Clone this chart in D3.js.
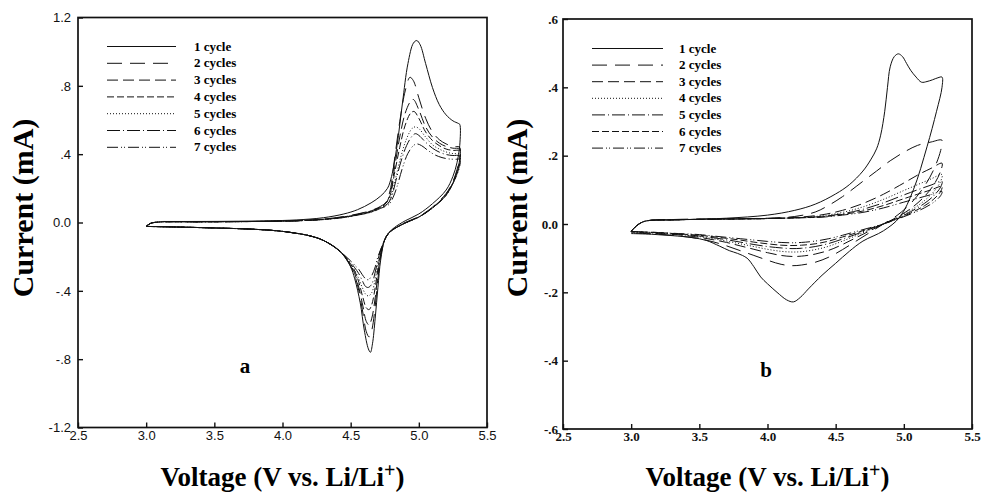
<!DOCTYPE html>
<html>
<head>
<meta charset="utf-8">
<script src="https://cdn.jsdelivr.net/npm/d3@7"></script>
<style>
  body { margin: 0; background: #fff; }
  svg { display: block; }
</style>
</head>
<body>
<svg id="chart"></svg>
<script>
// values: [voltage (V), current (mA)]
const cycleNames = ['1 cycle', '2 cycles', '3 cycles', '4 cycles', '5 cycles', '6 cycles', '7 cycles'];
const voltTicks = [2.5, 3.0, 3.5, 4.0, 4.5, 5.0, 5.5];
const voltTickLabels = ['2.5', '3.0', '3.5', '4.0', '4.5', '5.0', '5.5'];
const currentTicksA = [1.2, 0.8, 0.4, 0, -0.4, -0.8, -1.2];
const currentTickLabelsA = ['1.2', '.8', '.4', '0.0', '-.4', '-.8', '-1.2'];
const currentTicksB = [0.6, 0.4, 0.2, 0, -0.2, -0.4, -0.6];
const currentTickLabelsB = ['.6', '.4', '.2', '0.0', '-.2', '-.4', '-.6'];

const cycle1A = [[3.12,0.006],[3.3,0.006],[3.6,0.007],[3.9,0.01],[4.1,0.015],[4.3,0.028],[4.45,0.05],[4.55,0.075],[4.65,0.115],[4.72,0.155],[4.77,0.2],[4.8,0.27],[4.84,0.45],[4.88,0.7],[4.92,0.93],[4.96,1.05],[4.985,1.065],[5.01,1.04],[5.05,0.93],[5.1,0.79],[5.15,0.69],[5.2,0.63],[5.25,0.595],[5.29,0.58],[5.3,0.575],[5.3,0.45],[5.28,0.35],[5.25,0.27],[5.2,0.19],[5.1,0.11],[5.0,0.05],[4.9,0.01],[4.82,-0.03],[4.78,-0.06],[4.75,-0.1],[4.72,-0.22],[4.7,-0.38],[4.68,-0.56],[4.66,-0.71],[4.645,-0.76],[4.63,-0.74],[4.6,-0.63],[4.57,-0.47],[4.53,-0.33],[4.5,-0.26],[4.45,-0.195],[4.4,-0.155],[4.3,-0.105],[4.2,-0.078],[4.0,-0.052],[3.8,-0.04],[3.5,-0.032],[3.2,-0.026],[3.0,-0.023]];
const cycle2A = [[3.0,-0.023],[3.03,-0.006],[3.08,0.002],[3.4,0.004],[3.8,0.006],[4.1,0.01],[4.3,0.02],[4.45,0.035],[4.55,0.05],[4.65,0.07],[4.72,0.095],[4.76,0.12],[4.79,0.19],[4.82,0.36],[4.86,0.59],[4.9,0.77],[4.935,0.85],[4.96,0.83],[5.0,0.73],[5.05,0.61],[5.1,0.53],[5.15,0.485],[5.2,0.46],[5.25,0.445],[5.3,0.44],[5.3,0.38],[5.28,0.31],[5.25,0.24],[5.2,0.17],[5.1,0.09],[5.0,0.035],[4.9,0.0],[4.82,-0.035],[4.78,-0.06],[4.75,-0.1],[4.72,-0.2],[4.7,-0.33],[4.68,-0.49],[4.655,-0.63],[4.635,-0.67],[4.615,-0.64],[4.59,-0.53],[4.56,-0.4],[4.53,-0.31],[4.5,-0.255],[4.45,-0.195],[4.4,-0.155],[4.3,-0.105],[4.2,-0.078],[4.0,-0.052],[3.8,-0.04],[3.5,-0.032],[3.2,-0.026],[3.0,-0.023]];
const cycle3A = [[3.0,-0.023],[3.03,-0.006],[3.08,0.002],[3.4,0.004],[3.8,0.006],[4.1,0.01],[4.3,0.019],[4.45,0.033],[4.55,0.048],[4.65,0.068],[4.72,0.092],[4.76,0.115],[4.79,0.17],[4.82,0.31],[4.86,0.5],[4.9,0.64],[4.94,0.71],[4.96,0.72],[5.0,0.66],[5.05,0.56],[5.1,0.5],[5.15,0.465],[5.2,0.445],[5.25,0.435],[5.3,0.43],[5.3,0.37],[5.28,0.3],[5.25,0.235],[5.2,0.165],[5.1,0.087],[5.0,0.033],[4.9,-0.002],[4.82,-0.036],[4.78,-0.06],[4.75,-0.1],[4.72,-0.19],[4.7,-0.3],[4.68,-0.44],[4.655,-0.56],[4.635,-0.6],[4.615,-0.58],[4.59,-0.49],[4.56,-0.38],[4.53,-0.3],[4.5,-0.25],[4.45,-0.194],[4.4,-0.154],[4.3,-0.105],[4.2,-0.078],[4.0,-0.052],[3.8,-0.04],[3.5,-0.032],[3.2,-0.026],[3.0,-0.023]];
const cycle4A = [[3.0,-0.023],[3.03,-0.006],[3.08,0.002],[3.4,0.004],[3.8,0.006],[4.1,0.01],[4.3,0.019],[4.45,0.032],[4.55,0.046],[4.65,0.066],[4.72,0.09],[4.76,0.113],[4.79,0.16],[4.82,0.28],[4.86,0.44],[4.9,0.57],[4.94,0.64],[4.965,0.65],[5.0,0.61],[5.05,0.53],[5.1,0.48],[5.15,0.45],[5.2,0.43],[5.25,0.422],[5.3,0.42],[5.3,0.36],[5.28,0.295],[5.25,0.23],[5.2,0.16],[5.1,0.085],[5.0,0.032],[4.9,-0.003],[4.82,-0.037],[4.78,-0.062],[4.75,-0.1],[4.72,-0.18],[4.7,-0.27],[4.68,-0.38],[4.655,-0.48],[4.635,-0.51],[4.615,-0.5],[4.59,-0.44],[4.56,-0.35],[4.53,-0.285],[4.5,-0.245],[4.45,-0.193],[4.4,-0.154],[4.3,-0.105],[4.2,-0.078],[4.0,-0.052],[3.8,-0.04],[3.5,-0.032],[3.2,-0.026],[3.0,-0.023]];
const cycle5A = [[3.0,-0.023],[3.03,-0.006],[3.08,0.002],[3.4,0.004],[3.8,0.006],[4.1,0.01],[4.3,0.018],[4.45,0.031],[4.55,0.045],[4.65,0.064],[4.72,0.088],[4.77,0.11],[4.8,0.16],[4.83,0.26],[4.87,0.39],[4.91,0.49],[4.95,0.55],[4.975,0.56],[5.0,0.55],[5.05,0.5],[5.1,0.455],[5.15,0.43],[5.2,0.413],[5.25,0.403],[5.3,0.4],[5.3,0.35],[5.28,0.29],[5.25,0.23],[5.2,0.16],[5.1,0.085],[5.0,0.032],[4.9,-0.003],[4.82,-0.037],[4.78,-0.062],[4.75,-0.1],[4.72,-0.17],[4.7,-0.24],[4.68,-0.33],[4.655,-0.41],[4.63,-0.43],[4.61,-0.42],[4.585,-0.38],[4.56,-0.33],[4.53,-0.28],[4.5,-0.24],[4.45,-0.192],[4.4,-0.154],[4.3,-0.105],[4.2,-0.078],[4.0,-0.052],[3.8,-0.04],[3.5,-0.032],[3.2,-0.026],[3.0,-0.023]];
const cycle6A = [[3.0,-0.023],[3.03,-0.006],[3.08,0.002],[3.4,0.004],[3.8,0.006],[4.1,0.01],[4.3,0.018],[4.45,0.03],[4.55,0.044],[4.65,0.062],[4.72,0.086],[4.77,0.108],[4.8,0.15],[4.83,0.24],[4.87,0.36],[4.91,0.45],[4.95,0.505],[4.975,0.52],[5.0,0.51],[5.05,0.47],[5.1,0.435],[5.15,0.412],[5.2,0.398],[5.25,0.392],[5.3,0.39],[5.3,0.345],[5.28,0.285],[5.25,0.23],[5.2,0.16],[5.1,0.085],[5.0,0.032],[4.9,-0.003],[4.82,-0.037],[4.78,-0.062],[4.75,-0.1],[4.72,-0.16],[4.7,-0.22],[4.68,-0.29],[4.655,-0.36],[4.63,-0.38],[4.61,-0.375],[4.585,-0.34],[4.56,-0.3],[4.53,-0.265],[4.5,-0.235],[4.45,-0.19],[4.4,-0.153],[4.3,-0.105],[4.2,-0.078],[4.0,-0.052],[3.8,-0.04],[3.5,-0.032],[3.2,-0.026],[3.0,-0.023]];
const cycle7A = [[3.0,-0.023],[3.03,-0.006],[3.08,0.002],[3.4,0.004],[3.8,0.006],[4.1,0.01],[4.3,0.017],[4.45,0.029],[4.55,0.043],[4.65,0.06],[4.72,0.083],[4.78,0.105],[4.81,0.145],[4.84,0.21],[4.88,0.32],[4.92,0.405],[4.96,0.45],[4.985,0.46],[5.02,0.45],[5.07,0.42],[5.12,0.395],[5.17,0.38],[5.22,0.372],[5.27,0.37],[5.3,0.37],[5.3,0.33],[5.28,0.28],[5.25,0.23],[5.2,0.16],[5.1,0.085],[5.0,0.032],[4.9,-0.003],[4.82,-0.037],[4.78,-0.062],[4.76,-0.09],[4.73,-0.14],[4.7,-0.2],[4.68,-0.26],[4.655,-0.31],[4.63,-0.335],[4.61,-0.33],[4.585,-0.305],[4.56,-0.275],[4.53,-0.25],[4.5,-0.225],[4.45,-0.188],[4.4,-0.152],[4.3,-0.105],[4.2,-0.078],[4.0,-0.052],[3.8,-0.04],[3.5,-0.032],[3.2,-0.026],[3.0,-0.023]];

const cycle1B = [[3.18,0.012],[3.4,0.013],[3.7,0.017],[4.0,0.026],[4.2,0.04],[4.35,0.058],[4.5,0.088],[4.6,0.115],[4.7,0.155],[4.76,0.19],[4.8,0.22],[4.83,0.26],[4.86,0.33],[4.88,0.4],[4.9,0.46],[4.93,0.49],[4.96,0.498],[4.99,0.49],[5.02,0.47],[5.05,0.45],[5.09,0.43],[5.13,0.415],[5.17,0.417],[5.21,0.422],[5.25,0.428],[5.28,0.43],[5.28,0.4],[5.24,0.33],[5.17,0.226],[5.07,0.1],[4.97,0.02],[4.85,-0.02],[4.7,-0.05],[4.6,-0.08],[4.5,-0.115],[4.4,-0.15],[4.3,-0.19],[4.24,-0.215],[4.19,-0.228],[4.14,-0.222],[4.07,-0.2],[4.0,-0.175],[3.95,-0.155],[3.9,-0.125],[3.85,-0.1],[3.78,-0.086],[3.72,-0.078],[3.65,-0.065],[3.55,-0.048],[3.45,-0.04],[3.3,-0.034],[3.15,-0.03],[3.0,-0.028]];
const cycle2B = [[3.0,-0.022],[3.04,-0.005],[3.1,0.008],[3.3,0.013],[3.6,0.015],[4.0,0.017],[4.2,0.022],[4.35,0.035],[4.45,0.055],[4.55,0.08],[4.7,0.125],[4.8,0.155],[4.9,0.185],[5.0,0.21],[5.1,0.23],[5.2,0.24],[5.28,0.245],[5.27,0.215],[5.22,0.16],[5.15,0.11],[5.05,0.06],[4.95,0.025],[4.85,0.0],[4.75,-0.025],[4.65,-0.05],[4.55,-0.075],[4.45,-0.097],[4.35,-0.112],[4.25,-0.12],[4.18,-0.122],[4.1,-0.118],[4.0,-0.106],[3.9,-0.092],[3.8,-0.078],[3.7,-0.064],[3.6,-0.052],[3.5,-0.043],[3.35,-0.035],[3.2,-0.03],[3.0,-0.026]];
const cycle3B = [[3.0,-0.021],[3.04,-0.005],[3.1,0.008],[3.3,0.012],[3.6,0.014],[4.0,0.016],[4.2,0.019],[4.4,0.027],[4.55,0.04],[4.7,0.06],[4.85,0.087],[5.0,0.12],[5.1,0.143],[5.2,0.163],[5.28,0.178],[5.27,0.155],[5.22,0.115],[5.15,0.08],[5.05,0.045],[4.95,0.02],[4.85,0.0],[4.75,-0.02],[4.65,-0.04],[4.55,-0.06],[4.45,-0.077],[4.35,-0.088],[4.25,-0.094],[4.18,-0.095],[4.1,-0.092],[4.0,-0.084],[3.9,-0.074],[3.8,-0.064],[3.7,-0.054],[3.6,-0.046],[3.5,-0.039],[3.35,-0.032],[3.2,-0.028],[3.0,-0.024]];
const cycle4B = [[3.0,-0.021],[3.04,-0.005],[3.1,0.008],[3.3,0.012],[3.6,0.014],[4.0,0.016],[4.2,0.018],[4.4,0.024],[4.55,0.034],[4.7,0.05],[4.85,0.072],[5.0,0.098],[5.1,0.115],[5.2,0.132],[5.28,0.145],[5.27,0.125],[5.22,0.095],[5.15,0.068],[5.05,0.04],[4.95,0.018],[4.85,0.0],[4.75,-0.017],[4.65,-0.034],[4.55,-0.05],[4.45,-0.065],[4.35,-0.075],[4.25,-0.081],[4.18,-0.082],[4.1,-0.08],[4.0,-0.074],[3.9,-0.066],[3.8,-0.058],[3.7,-0.05],[3.6,-0.043],[3.5,-0.037],[3.35,-0.031],[3.2,-0.027],[3.0,-0.023]];
const cycle5B = [[3.0,-0.021],[3.04,-0.005],[3.1,0.008],[3.3,0.012],[3.6,0.014],[4.0,0.016],[4.2,0.018],[4.4,0.022],[4.55,0.03],[4.7,0.043],[4.85,0.062],[5.0,0.085],[5.1,0.1],[5.2,0.114],[5.28,0.125],[5.27,0.108],[5.22,0.083],[5.15,0.06],[5.05,0.036],[4.95,0.016],[4.85,0.0],[4.75,-0.015],[4.65,-0.03],[4.55,-0.044],[4.45,-0.057],[4.35,-0.066],[4.25,-0.071],[4.18,-0.072],[4.1,-0.07],[4.0,-0.066],[3.9,-0.06],[3.8,-0.053],[3.7,-0.046],[3.6,-0.04],[3.5,-0.035],[3.35,-0.03],[3.2,-0.026],[3.0,-0.022]];
const cycle6B = [[3.0,-0.021],[3.04,-0.005],[3.1,0.008],[3.3,0.012],[3.6,0.014],[4.0,0.016],[4.2,0.018],[4.4,0.021],[4.55,0.028],[4.7,0.038],[4.85,0.054],[5.0,0.074],[5.1,0.087],[5.2,0.1],[5.28,0.11],[5.27,0.095],[5.22,0.073],[5.15,0.053],[5.05,0.032],[4.95,0.015],[4.85,0.0],[4.75,-0.013],[4.65,-0.026],[4.55,-0.038],[4.45,-0.05],[4.35,-0.058],[4.25,-0.062],[4.18,-0.063],[4.1,-0.062],[4.0,-0.058],[3.9,-0.053],[3.8,-0.047],[3.7,-0.042],[3.6,-0.037],[3.5,-0.033],[3.35,-0.029],[3.2,-0.025],[3.0,-0.022]];
const cycle7B = [[3.0,-0.021],[3.04,-0.005],[3.1,0.008],[3.3,0.012],[3.6,0.014],[4.0,0.016],[4.2,0.018],[4.4,0.02],[4.55,0.026],[4.7,0.034],[4.85,0.047],[5.0,0.064],[5.1,0.075],[5.2,0.086],[5.28,0.095],[5.27,0.083],[5.22,0.064],[5.15,0.047],[5.05,0.029],[4.95,0.014],[4.85,0.0],[4.75,-0.011],[4.65,-0.022],[4.55,-0.033],[4.45,-0.043],[4.35,-0.05],[4.25,-0.054],[4.18,-0.055],[4.1,-0.054],[4.0,-0.051],[3.9,-0.047],[3.8,-0.043],[3.7,-0.039],[3.6,-0.035],[3.5,-0.031],[3.35,-0.028],[3.2,-0.025],[3.0,-0.022]];

const serif = "'Liberation Serif', 'Times New Roman', serif";
const sans = "'Liberation Sans', Arial, sans-serif";

class CvPanel {

  constructor(_config, _data) {
    this.config = _config;
    this.data = _data;
    this.initVis();
  }

  initVis() {
    let vis = this;
    const c = vis.config;

    vis.g = d3.select(c.parentElement).append('g');

    vis.xScale = d3.scaleLinear()
      .domain([2.5, 5.5])
      .range([c.left, c.left + c.width]);

    vis.yScale = d3.scaleLinear()
      .domain([c.yTicks[c.yTicks.length - 1], c.yTicks[0]])
      .range([c.top + c.height, c.top]);

    // x axis, ticks point into the plot
    const xAxis = d3.axisBottom(vis.xScale)
      .tickValues(voltTicks)
      .tickFormat((d, i) => voltTickLabels[i])
      .tickSizeInner(-5)
      .tickSizeOuter(0)
      .tickPadding(3);

    const yAxis = d3.axisLeft(vis.yScale)
      .tickValues(c.yTicks)
      .tickFormat((d, i) => c.yTickLabels[i])
      .tickSizeInner(-5)
      .tickSizeOuter(0)
      .tickPadding(c.yPad);

    [[xAxis, `translate(0,${c.top + c.height})`], [yAxis, `translate(${c.left},0)`]].forEach(([ax, tr]) => {
      const a = vis.g.append('g').attr('transform', tr).call(ax);
      a.select('.domain').remove();
      a.selectAll('line').attr('stroke', '#111').attr('stroke-width', 1.4);
      a.selectAll('text')
        .attr('fill', '#111')
        .style('font-family', c.tickFont)
        .style('font-weight', c.tickWeight)
        .style('font-size', '13px');
    });

    vis.g.append('rect')
      .attr('x', c.left)
      .attr('y', c.top)
      .attr('width', c.width)
      .attr('height', c.height)
      .attr('fill', 'none')
      .attr('stroke', '#111')
      .attr('stroke-width', 1.7);

    vis.g.append('text')
      .attr('transform', `translate(${c.yTitleX},${c.yTitleY}) rotate(-90)`)
      .attr('text-anchor', 'middle')
      .style('font-family', serif)
      .style('font-weight', 'bold')
      .style('font-size', '30px')
      .text('Current (mA)');

    const xt = vis.g.append('text')
      .attr('x', vis.xScale(4.0))
      .attr('y', 486)
      .attr('text-anchor', 'middle')
      .style('font-family', serif)
      .style('font-weight', 'bold')
      .style('font-size', '27px');
    xt.append('tspan').text('Voltage (V vs. Li/Li');
    xt.append('tspan').attr('dy', -9).style('font-size', '20px').text('+');
    xt.append('tspan').attr('dy', 9).text(')');

    vis.g.append('text')
      .attr('x', c.tagX)
      .attr('y', c.tagY)
      .attr('text-anchor', 'middle')
      .style('font-family', serif)
      .style('font-weight', 'bold')
      .style('font-size', '21px')
      .text(c.tag);

    vis.updateVis();
  }

  updateVis() {
    let vis = this;
    const c = vis.config;

    const line = d3.line()
      .x(d => vis.xScale(d[0]))
      .y(d => vis.yScale(d[1]))
      .curve(d3.curveCatmullRom.alpha(0.5));

    vis.g.selectAll('.cv')
      .data(vis.data)
      .join('path')
      .attr('class', 'cv')
      .attr('d', d => line(d))
      .attr('fill', 'none')
      .attr('stroke', '#111')
      .attr('stroke-width', 1)
      .attr('stroke-dasharray', (d, i) => c.dashes[i]);

    const leg = vis.g.selectAll('.leg')
      .data(cycleNames)
      .join('g')
      .attr('class', 'leg')
      .attr('transform', (d, i) => `translate(0,${c.legendY + i * c.legendStep})`);

    leg.append('line')
      .attr('x1', c.legendX1)
      .attr('x2', c.legendX2)
      .attr('stroke', '#111')
      .attr('stroke-width', 1)
      .attr('stroke-dasharray', (d, i) => c.dashes[i]);

    leg.append('text')
      .attr('x', c.legendTextX)
      .attr('y', 4)
      .style('font-family', serif)
      .style('font-weight', 'bold')
      .style('font-size', '13px')
      .text(d => d);
  }
}

d3.select('#chart').attr('width', 983).attr('height', 492);

new CvPanel({
  parentElement: '#chart',
  left: 78, top: 17.5, width: 409, height: 410,
  yTicks: currentTicksA, yTickLabels: currentTickLabelsA,
  tickFont: sans, tickWeight: 'normal', yPad: 7,
  yTitleX: 33, yTitleY: 208,
  tag: 'a', tagX: 245, tagY: 373,
  legendX1: 107, legendX2: 176, legendTextX: 194, legendY: 46.5, legendStep: 16.8,
  dashes: ['none', '15,8', '11,5', '7,3', '1,2', '13,3,1,3', '11,3,1,2,1,3']
}, [cycle1A, cycle2A, cycle3A, cycle4A, cycle5A, cycle6A, cycle7A]);

new CvPanel({
  parentElement: '#chart',
  left: 563, top: 19, width: 409, height: 410,
  yTicks: currentTicksB, yTickLabels: currentTickLabelsB,
  tickFont: serif, tickWeight: 'bold', yPad: 5,
  yTitleX: 527, yTitleY: 208,
  tag: 'b', tagX: 766, tagY: 377,
  legendX1: 592, legendX2: 663, legendTextX: 679, legendY: 48.5, legendStep: 16.6,
  dashes: ['none', '15,8', '11,5', '1,2', '13,3,1,3', '7,3', '11,3,1,2,1,3']
}, [cycle1B, cycle2B, cycle3B, cycle4B, cycle5B, cycle6B, cycle7B]);
</script>
</body>
</html>
